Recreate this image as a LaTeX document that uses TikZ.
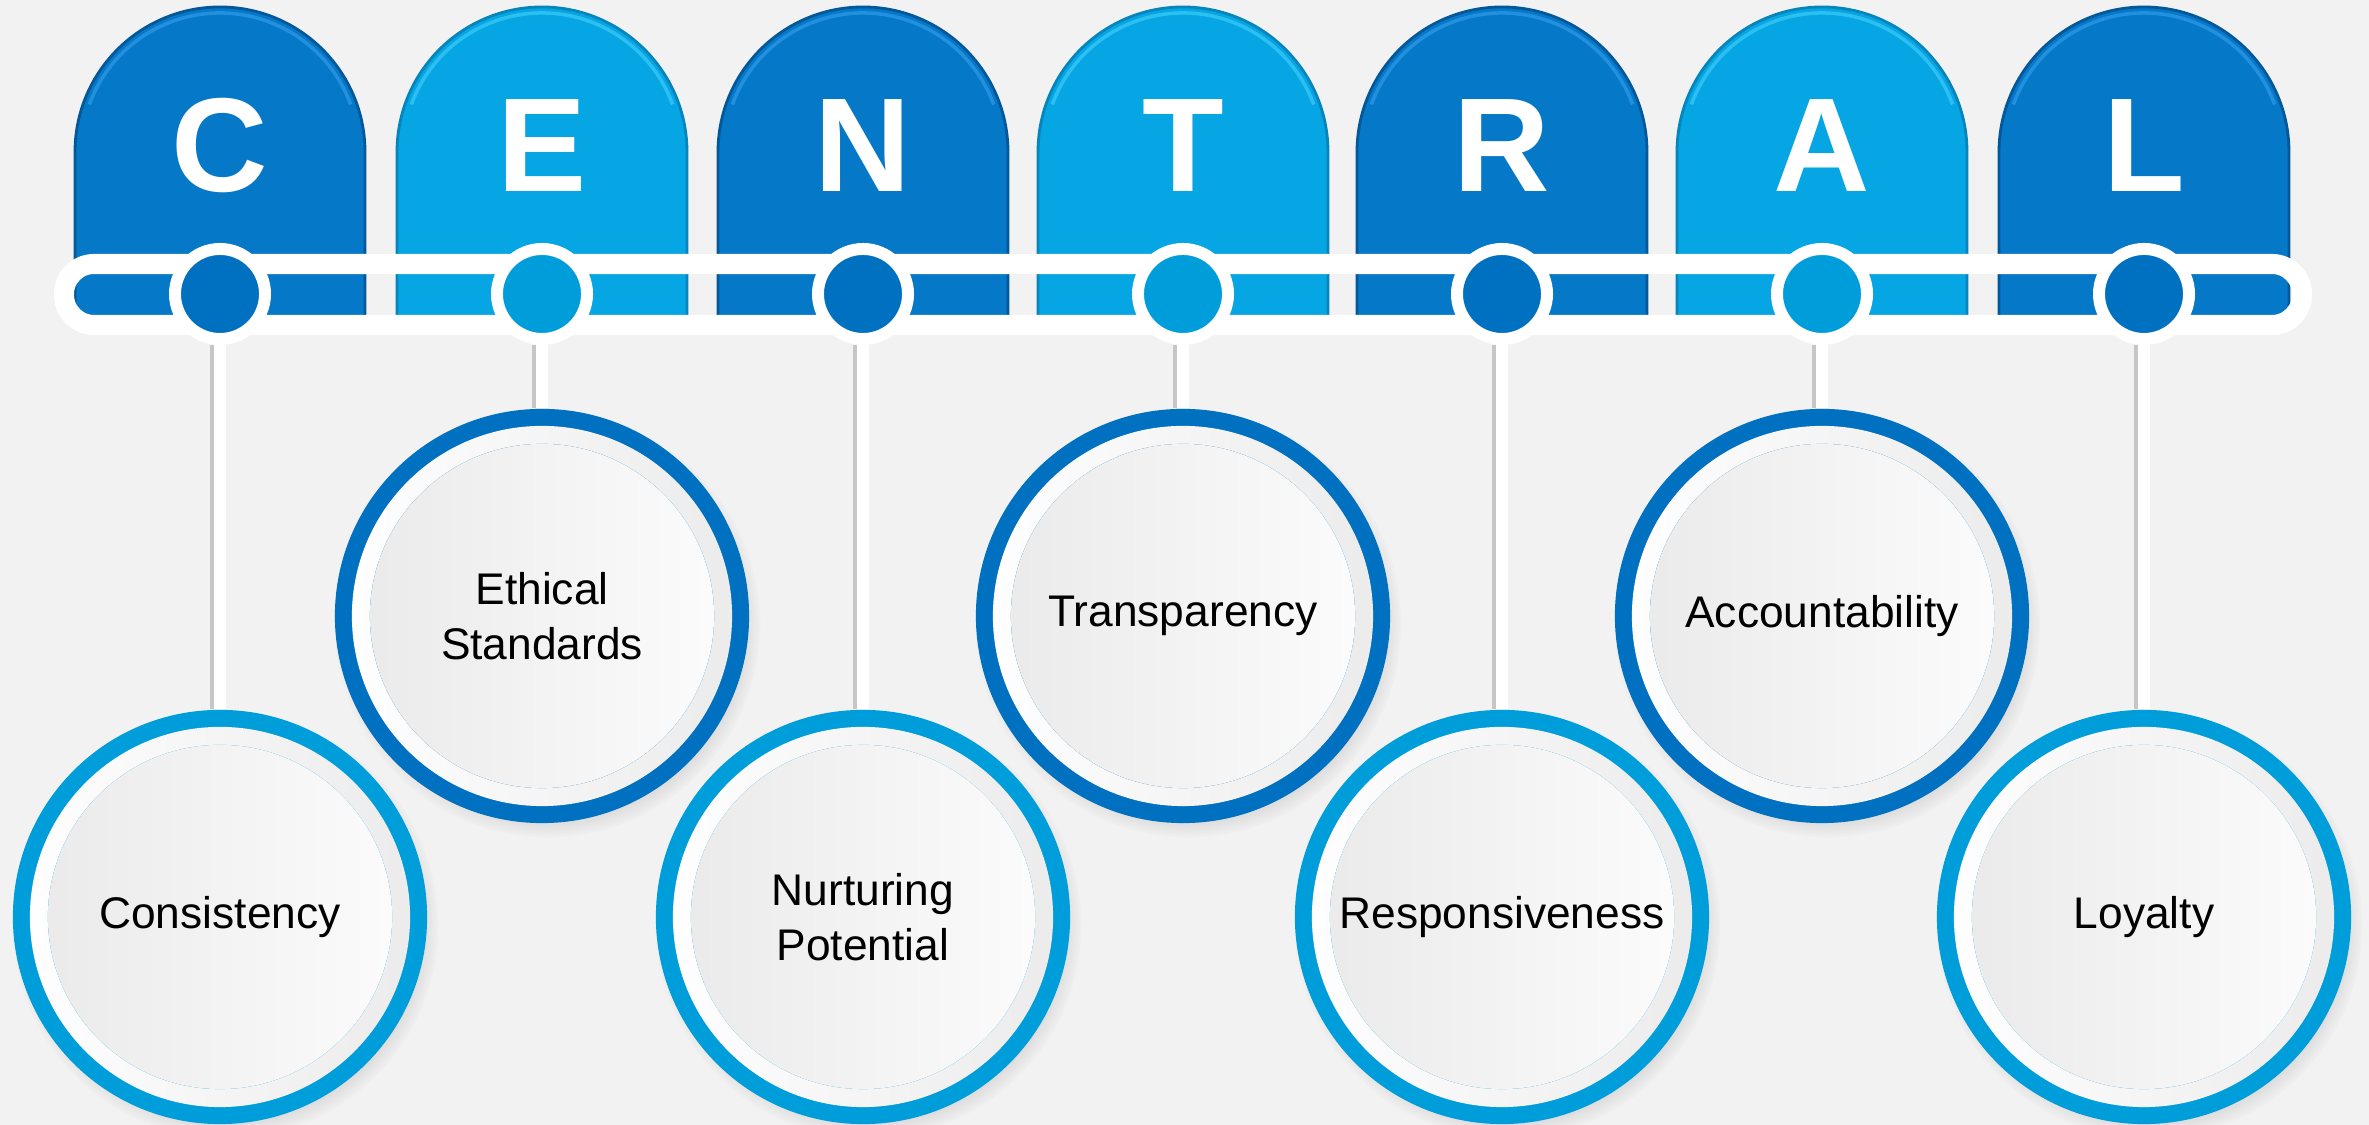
\documentclass[tikz,border=0pt]{standalone}
\usepackage{fontspec}
\setmainfont{Liberation Sans}
\usetikzlibrary{shadows}

\definecolor{bgray}{HTML}{F2F2F2}
\definecolor{tabdark}{HTML}{0578C8}
\definecolor{tablight}{HTML}{06A5E3}
\definecolor{edgedark}{HTML}{03589A}
\definecolor{edgelight}{HTML}{0486BD}
\definecolor{hidark}{HTML}{3AA4F2}
\definecolor{hilight}{HTML}{4AD6FF}
\definecolor{dotdark}{HTML}{0070C0}
\definecolor{dotlight}{HTML}{009DDB}

\begin{document}
\begin{tikzpicture}[x=0.01cm,y=0.01cm]
    \tikzset{
        letter/.style={anchor=base, text=white, inner sep=0pt, font=\fontsize{38}{40}\selectfont\bfseries},
        bar/.style={white, line width=5.7pt, rounded corners=0.3cm},
        dot/.style={circle, draw=white, line width=3.4pt, minimum size=0.9cm, inner sep=0pt},
        stem/.style={white, line width=3.4pt},
        stemshade/.style={gray!45, line width=1.8pt},
        ring/.style={circle, minimum size=4.14cm, inner sep=0pt, align=center,
            font=\fontsize{12.6}{15.6}\selectfont, text=black,
            circular drop shadow={shadow xshift=0.05cm, shadow yshift=-0.08cm, shadow scale=1.03, opacity=0.35},
            path picture={
                \fill[left color=white, right color=gray!16] (path picture bounding box.center) circle (1.9cm);
                \fill[left color=gray!16, right color=gray!3] (path picture bounding box.center) circle (1.72cm);
            }},
        lowring/.style={ring, fill=dotlight},
        highring/.style={ring, fill=dotdark}
    }

    \fill[bgray] (0,0) rectangle (2369,1125);
    \useasboundingbox (0,0) rectangle (2369,1125);

    % letter tabs
    \foreach \x/\l/\c in {220/C/dark, 542/E/light, 863/N/dark, 1183/T/light, 1502/R/dark, 1822/A/light, 2144/L/dark}{
        \filldraw[fill=tab\c, draw=edge\c, line width=0.8pt] (\x-145,807) -- (\x-145,973) arc[start angle=180, end angle=0, radius=145] -- (\x+145,807) -- cycle;
        \draw[hi\c, line width=1pt, opacity=0.55] (\x,973) ++(160:139) arc[start angle=160, end angle=20, radius=139];
        \node[letter] (l\l) at (\x,933) {\l};
    }

    % white rail
    \draw[bar] (64,861) rectangle (2302,800);

    % dots on the rail
    \foreach \x/\l/\c in {220/C/dark, 542/E/light, 863/N/dark, 1183/T/light, 1502/R/dark, 1822/A/light, 2144/L/dark}
        \node[dot, fill=dot\c] (d\l) at (\x,831) {};

    % value circles
    \node[lowring]  (cons)   at (220,208)  {Consistency};
    \node[highring] (ethic)  at (542,509)  {Ethical\\Standards};
    \node[lowring]  (nurt)   at (863,208)  {Nurturing\\Potential};
    \node[highring] (transp) at (1183,509) {Transparency};
    \node[lowring]  (resp)   at (1502,208) {Responsiveness};
    \node[highring] (acc)    at (1822,509) {Accountability};
    \node[lowring]  (loyal)  at (2144,208) {Loyalty};

    % stems
    \foreach \d/\n in {C/cons, E/ethic, N/nurt, T/transp, R/resp, A/acc, L/loyal}{
        \draw[stemshade] ([xshift=-0.07cm]d\d.south) -- ([xshift=-0.07cm]\n.north);
        \draw[stem] (d\d) -- (\n);
    }
\end{tikzpicture}
\end{document}
